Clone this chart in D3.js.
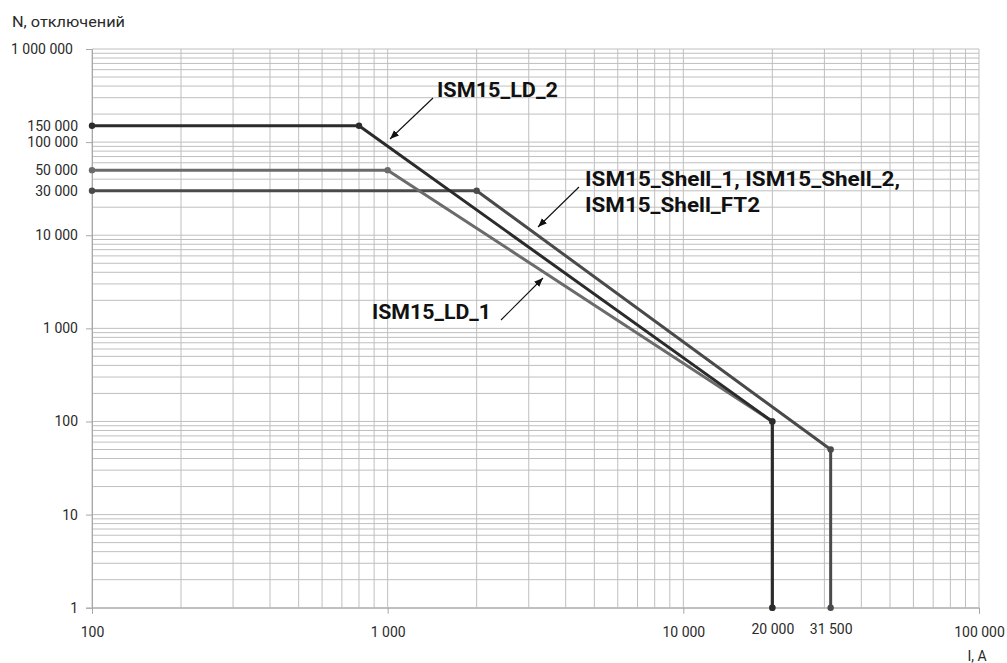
<!DOCTYPE html>
<html>
<head>
<meta charset="utf-8">
<script src="https://cdn.jsdelivr.net/npm/d3@7"></script>
<style>
  body { margin: 0; background: #fff; }
  svg text { font-family: Roboto, "Noto Sans", sans-serif; }
</style>
</head>
<body>
<svg width="1007" height="663"></svg>
<script>
// values
var seriesNames = ["ISM15_LD_2", "ISM15_Shell", "ISM15_LD_1"];
var currentLD2 = [100, 800, 20000, 20000];
var tripsLD2 = [150000, 150000, 100, 1];
var currentShell = [100, 2000, 31500, 31500];
var tripsShell = [30000, 30000, 50, 1];
var currentLD1 = [100, 1000, 20000, 20000];
var tripsLD1 = [50000, 50000, 100, 1];

var xTicks = [100, 1000, 10000, 20000, 31500, 100000];
var yTicks = [1, 10, 100, 1000, 10000, 30000, 50000, 100000, 150000, 1000000];

var colors = {"ISM15_LD_2": "#2b2b2b", "ISM15_Shell": "#4a4a4a", "ISM15_LD_1": "#6b6b6b"};

var svg = d3.select("svg")

var x = d3.scaleLog().domain([100, 100000]).range([92, 979])
var y = d3.scaleLog().domain([1, 1000000]).range([607.7, 49])

var ru = d3.formatLocale({thousands: " ", grouping: [3], decimal: ",", currency: ["", ""]})
var fmt = ru.format(",d")

var isDecade = function(v) { return Math.abs(Math.log10(v) - Math.round(Math.log10(v))) < 1e-9 }

// grid
var xGrid = [], yGrid = []
for (var d = 100; d < 100000; d *= 10) for (var k = 1; k < 10; k++) xGrid.push(d * k)
xGrid.push(100000)
for (var d2 = 1; d2 < 1000000; d2 *= 10) for (var k2 = 1; k2 < 10; k2++) yGrid.push(d2 * k2)
yGrid.push(1000000)

var grid = svg.append("g")
grid.selectAll(".vx").data(xGrid).enter().append("line")
    .attr("x1", function(v) { return x(v) }).attr("x2", function(v) { return x(v) })
    .attr("y1", y(1)).attr("y2", y(1000000))
    .attr("stroke", "#bfbfbf").attr("stroke-width", 1)
grid.selectAll(".hy").data(yGrid).enter().append("line")
    .attr("y1", function(v) { return y(v) }).attr("y2", function(v) { return y(v) })
    .attr("x1", x(100)).attr("x2", x(100000))
    .attr("stroke", "#bfbfbf").attr("stroke-width", 1)

// axes
var yAxis = svg.append("g").attr("transform", "translate(" + x(100) + ",0)")
    .call(d3.axisLeft(y).tickValues(yTicks).tickFormat(fmt).tickSize(6).tickPadding(8))
yAxis.select(".domain").attr("stroke", "#a8a8a8")
yAxis.selectAll(".tick line").attr("stroke", "#a8a8a8")
    .attr("opacity", function(v) { return isDecade(v) ? 1 : 0 })
yAxis.selectAll(".tick text").attr("font-size", 14).attr("fill", "#2a2a2a")
    .attr("font-family", "Roboto")
    .attr("x", function(v) { return v === 1000000 ? -19 : -14 })

var xAxis = svg.append("g").attr("transform", "translate(0," + y(1) + ")")
    .call(d3.axisBottom(x).tickValues(xTicks).tickFormat(fmt).tickSize(6).tickPadding(16))
xAxis.select(".domain").attr("stroke", "#a8a8a8")
xAxis.selectAll(".tick line").attr("stroke", "#a8a8a8")
    .attr("opacity", function(v) { return isDecade(v) ? 1 : 0 })
xAxis.selectAll(".tick text").attr("font-size", 14).attr("fill", "#2a2a2a")
    .attr("font-family", "Roboto")
    .attr("y", function(v) { return isDecade(v) ? 19.7 : 16 })

svg.append("text").attr("x", 12).attr("y", 27).attr("font-size", 15).attr("fill", "#2a2a2a")
    .attr("textLength", 113).attr("lengthAdjust", "spacingAndGlyphs")
    .text("N, отключений")
svg.append("text").attr("x", 977).attr("y", 661).attr("text-anchor", "middle")
    .attr("font-size", 14).attr("fill", "#2a2a2a").text("I, A")

// series
var series = [
    {name: "ISM15_Shell", xs: currentShell, ys: tripsShell},
    {name: "ISM15_LD_1", xs: currentLD1, ys: tripsLD1},
    {name: "ISM15_LD_2", xs: currentLD2, ys: tripsLD2}
]
var line = d3.line().x(function(p) { return x(p[0]) }).y(function(p) { return y(p[1]) })

series.forEach(function(s) {
    var pts = s.xs.map(function(v, i) { return [v, s.ys[i]] })
    svg.append("path").datum(pts).attr("d", line)
        .attr("fill", "none").attr("stroke", colors[s.name]).attr("stroke-width", 3)
        .attr("stroke-linejoin", "round")
    svg.selectAll(null).data(pts).enter().append("circle")
        .attr("cx", function(p) { return x(p[0]) }).attr("cy", function(p) { return y(p[1]) })
        .attr("r", 3.2).attr("fill", colors[s.name])
})

// annotations
svg.append("defs").append("marker").attr("id", "arr")
    .attr("viewBox", "0 0 10 10").attr("refX", 10).attr("refY", 5)
    .attr("markerWidth", 9).attr("markerHeight", 9).attr("markerUnits", "userSpaceOnUse")
    .attr("orient", "auto")
    .append("path").attr("d", "M0,1 L10,5 L0,9 Z").attr("fill", "#111")

var labels = [
    {lines: ["ISM15_LD_2"], tx: 437, ty: 97, widths: [121], from: [433, 98], to: [390, 139]},
    {lines: ["ISM15_Shell_1, ISM15_Shell_2,", "ISM15_Shell_FT2"], tx: 585, ty: 186, widths: [315, 175], from: [579, 187], to: [538, 227]},
    {lines: ["ISM15_LD_1"], tx: 372, ty: 319, widths: [119], from: [501, 320], to: [543, 278]}
]
labels.forEach(function(l) {
    l.lines.forEach(function(t, i) {
        svg.append("text").attr("x", l.tx).attr("y", l.ty + i * 26)
            .attr("font-family", "DejaVu Sans Condensed, DejaVu Sans")
            .attr("font-weight", "bold").attr("font-size", 20).attr("fill", "#111")
            .attr("textLength", l.widths[i]).attr("lengthAdjust", "spacingAndGlyphs")
            .text(t)
    })
    svg.append("line").attr("x1", l.from[0]).attr("y1", l.from[1])
        .attr("x2", l.to[0]).attr("y2", l.to[1])
        .attr("stroke", "#111").attr("stroke-width", 1.1).attr("marker-end", "url(#arr)")
})
</script>
</body>
</html>
